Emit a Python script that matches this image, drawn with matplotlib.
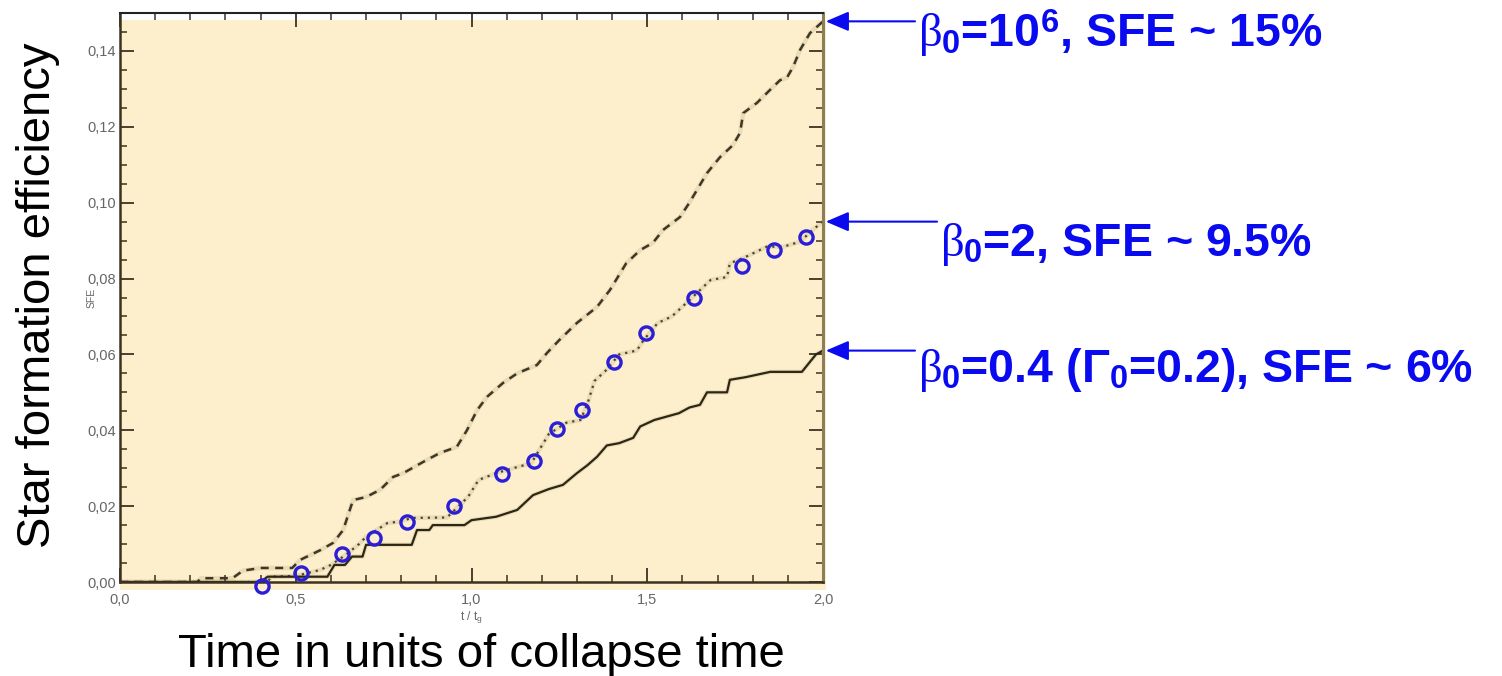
import matplotlib
matplotlib.use('Agg')
import matplotlib.pyplot as plt
from matplotlib.patches import Rectangle
from matplotlib.ticker import MultipleLocator, FuncFormatter

# beta0 = 1e6 (dashed)
t_hi = [0.0, 0.22, 0.23, 0.32, 0.35, 0.40, 0.49, 0.512, 0.57, 0.606, 0.635, 0.663, 0.70, 0.74,
        0.777, 0.806, 0.873, 0.91, 0.958, 0.987, 1.016, 1.044, 1.09, 1.13, 1.186, 1.215, 1.25,
        1.30, 1.357, 1.394, 1.44, 1.48, 1.516, 1.545, 1.593, 1.62, 1.67, 1.707, 1.744, 1.764,
        1.773, 1.812, 1.849, 1.878, 1.897, 1.915, 1.935, 1.963, 2.0]
sfe_hi = [0.0, 0.0, 0.001, 0.001, 0.003, 0.0037, 0.0037, 0.0058, 0.0084, 0.0103, 0.0137, 0.0216,
          0.0224, 0.0243, 0.0277, 0.0287, 0.0322, 0.034, 0.0356, 0.040, 0.0453, 0.0488, 0.0525,
          0.055, 0.0572, 0.0604, 0.0638, 0.0683, 0.0725, 0.077, 0.084, 0.0875, 0.0894, 0.0928,
          0.0962, 0.100, 0.1078, 0.112, 0.1152, 0.1184, 0.1236, 0.1263, 0.1297, 0.1323, 0.1329,
          0.1358, 0.1403, 0.1447, 0.1478]

# beta0 = 2 (dotted)
t_mid = [0.0, 0.42, 0.43, 0.50, 0.54, 0.57, 0.60, 0.64, 0.68, 0.70, 0.76, 0.80, 0.83, 0.93, 0.99,
         1.02, 1.07, 1.13, 1.17, 1.22, 1.27, 1.31, 1.33, 1.35, 1.385, 1.42, 1.47, 1.49, 1.53,
         1.57, 1.62, 1.68, 1.727, 1.735, 1.78, 1.84, 1.887, 1.935, 1.97, 2.0]
sfe_mid = [0.0, 0.0, 0.0014, 0.0016, 0.0025, 0.0032, 0.0045, 0.007, 0.010, 0.0119, 0.0155, 0.016,
           0.0169, 0.017, 0.0224, 0.0269, 0.0287, 0.0303, 0.0313, 0.039, 0.042, 0.0427, 0.047,
           0.053, 0.056, 0.060, 0.061, 0.0638, 0.0683, 0.070, 0.0743, 0.0796, 0.0804, 0.084,
           0.0857, 0.0884, 0.0884, 0.0897, 0.0928, 0.0950]

# beta0 = 0.4 (solid)
t_lo = [0.0, 0.40, 0.42, 0.59, 0.61, 0.64, 0.66, 0.69, 0.70, 0.83, 0.845, 0.88, 0.89, 0.98, 1.00,
        1.07, 1.13, 1.175, 1.22, 1.26, 1.30, 1.33, 1.357, 1.385, 1.42, 1.46, 1.48, 1.52, 1.59,
        1.62, 1.65, 1.67, 1.727, 1.735, 1.78, 1.85, 1.94, 1.96, 1.98, 2.0]
sfe_lo = [0.0, 0.0, 0.0014, 0.0014, 0.0045, 0.0045, 0.0067, 0.0067, 0.0098, 0.0098, 0.0137,
          0.0137, 0.015, 0.015, 0.0163, 0.0172, 0.019, 0.0229, 0.0245, 0.0256, 0.0287, 0.0308,
          0.033, 0.036, 0.0366, 0.038, 0.041, 0.0427, 0.0445, 0.046, 0.0467, 0.050, 0.050,
          0.0533, 0.054, 0.0554, 0.0554, 0.0577, 0.060, 0.061]

# circle markers along the beta0 = 2 run
circ_t = [0.403, 0.514, 0.632, 0.723, 0.816, 0.950, 1.087, 1.178, 1.242, 1.314, 1.405, 1.496,
          1.633, 1.770, 1.861, 1.952]
circ_sfe = [-0.0011, 0.0023, 0.0074, 0.0117, 0.0158, 0.0200, 0.0285, 0.0318, 0.0403, 0.0453,
            0.0579, 0.0656, 0.0749, 0.0832, 0.0875, 0.0910]

labels = [r'$\beta_0$=10$^6$, SFE ~ 15%',
          r'$\beta_0$=2, SFE ~ 9.5%',
          r'$\beta_0$=0.4 ($\mathit{\Gamma}_0$=0.2), SFE ~ 6%']

plt.rcParams['mathtext.fontset'] = 'custom'
plt.rcParams['mathtext.rm'] = 'Liberation Sans:bold'
plt.rcParams['mathtext.bf'] = 'Liberation Sans:bold'
plt.rcParams['mathtext.it'] = 'Liberation Serif'
plt.rcParams['font.family'] = ['Liberation Sans', 'DejaVu Sans']

W, H = 1502, 676
fig = plt.figure(figsize=(W / 100, H / 100), dpi=100)
ax = fig.add_axes([120 / W, 1 - 582 / H, 703 / W, 569 / H])

ax.add_patch(Rectangle((0, -0.014), 1.004, 1.002, transform=ax.transAxes,
                       facecolor='#fdefcc', edgecolor='none', clip_on=False, zorder=0.5))

# soft halo under each curve, then the curve itself
for x, y in [(t_hi, sfe_hi), (t_mid, sfe_mid), (t_lo, sfe_lo)]:
    ax.plot(x, y, color='#c8b98a', lw=3.2, alpha=0.35, zorder=1)
ax.plot(t_hi, sfe_hi, color='#3d3728', lw=1.8, ls=(0, (3.2, 2.6)), zorder=2)
ax.plot(t_mid, sfe_mid, color='#4b4535', lw=1.6, ls=(0, (1, 2.2)), zorder=2)
ax.plot(t_lo, sfe_lo, color='#2b2616', lw=1.6, zorder=2)
ax.plot(circ_t, circ_sfe, 'o', ms=9.5, mfc='none', mec='#2b1ed6', mew=2.4,
        clip_on=False, zorder=3)

ax.set_xlim(0, 2.0)
ax.set_ylim(0, 0.15)
ax.xaxis.set_major_locator(MultipleLocator(0.5))
ax.xaxis.set_minor_locator(MultipleLocator(0.1))
ax.yaxis.set_minor_locator(MultipleLocator(0.005))
ax.set_yticks([0.0, 0.02, 0.04, 0.06, 0.08, 0.10, 0.12, 0.14])
ax.xaxis.set_major_formatter(FuncFormatter(lambda v, p: f'{v:.1f}'.replace('.', ',')))
ax.yaxis.set_major_formatter(FuncFormatter(lambda v, p: f'{v:.2f}'.replace('.', ',')))
ax.tick_params(which='both', direction='in', top=True, right=True, color='#3b3320',
               labelcolor='#666666', labelsize=10.5)
ax.tick_params(which='major', length=10, width=1.3)
ax.tick_params(which='minor', length=5, width=1.1)
ax.tick_params(axis='x', pad=8)
ax.tick_params(axis='y', pad=3)

for side in ['left', 'bottom']:
    ax.spines[side].set_color('#3b3320')
    ax.spines[side].set_linewidth(1.8)
ax.spines['top'].set_color('#222222')
ax.spines['top'].set_linewidth(1.5)
ax.spines['right'].set_color('#8c7f58')
ax.spines['right'].set_linewidth(2.2)

ax.text(-0.041, 0.50, 'SFE', transform=ax.transAxes, rotation=90, ha='center', va='center',
        fontsize=7.5, color='#666666')
ax.text(0.5, -0.063, r't / t$_\mathregular{g}$', transform=ax.transAxes, ha='center',
        va='center', fontsize=8.5, color='#666666')

fig.text(38 / W, 1 - 295 / H, 'Star formation efficiency', rotation=90, ha='center',
         va='center', fontsize=34)
fig.text(481 / W, 1 - 667 / H, 'Time in units of collapse time', ha='center',
         va='baseline', fontsize=34)

# arrows from the labels to the end of each curve
ends = [sfe_hi[-1], sfe_mid[-1], sfe_lo[-1]]
text_x = [918, 940, 918]
text_base = [47, 256, 382]
for lab, yend, tx, tb in zip(labels, ends, text_x, text_base):
    ax.annotate('', xy=(2.008, yend), xytext=((tx - 3 - 120) / 351.5, yend),
                annotation_clip=False,
                arrowprops=dict(arrowstyle='-|>,head_length=0.7,head_width=0.3',
                                mutation_scale=20, color='#0a0af0', lw=1.5,
                                shrinkA=0, shrinkB=0))
    fig.text(tx / W, 1 - tb / H, lab, ha='left', va='baseline', color='#0a0af0',
             fontsize=33.5, fontweight='bold', family='Liberation Sans')

fig.savefig('out.png', dpi=100)
